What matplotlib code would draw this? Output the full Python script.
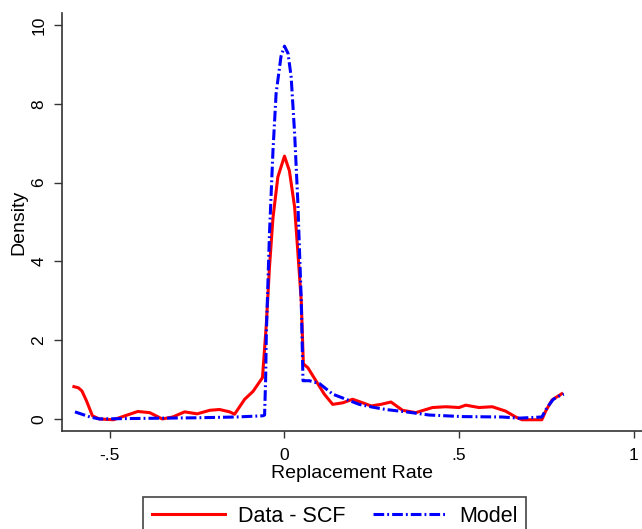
import matplotlib
matplotlib.use("Agg")
import matplotlib.pyplot as plt

plt.rcParams["font.family"] = ["Liberation Sans", "DejaVu Sans"]

# Data - SCF (kernel density)
red_x = [-0.603, -0.59, -0.58, -0.567, -0.55, -0.53, -0.49, -0.45, -0.42, -0.386,
         -0.35, -0.32, -0.286, -0.25, -0.214, -0.186, -0.157, -0.143, -0.114, -0.09,
         -0.063, -0.052, -0.043, -0.033, -0.019, 0.0, 0.014, 0.029, 0.038, 0.048,
         0.054, 0.067, 0.09, 0.114, 0.138, 0.167, 0.195, 0.224, 0.248, 0.276,
         0.305, 0.338, 0.376, 0.424, 0.462, 0.5, 0.519, 0.557, 0.595, 0.633,
         0.662, 0.68, 0.737, 0.748, 0.766, 0.794]
red_y = [0.82, 0.79, 0.71, 0.46, 0.08, 0.0, -0.02, 0.1, 0.19, 0.16,
         0.0, 0.05, 0.18, 0.13, 0.22, 0.24, 0.18, 0.12, 0.5, 0.7,
         1.05, 2.4, 3.85, 5.1, 6.14, 6.67, 6.3, 5.38, 4.27, 3.0,
         1.4, 1.3, 0.97, 0.63, 0.37, 0.41, 0.5, 0.41, 0.33, 0.37,
         0.43, 0.22, 0.16, 0.29, 0.31, 0.29, 0.35, 0.29, 0.31, 0.2,
         0.05, -0.02, -0.02, 0.2, 0.48, 0.64]

# Model
blue_x = [-0.6, -0.557, -0.53, -0.45, -0.35, -0.25, -0.138, -0.062, -0.057, -0.054,
          -0.052, -0.043, -0.033, -0.024, -0.01, 0.0, 0.01, 0.019, 0.029, 0.038,
          0.048, 0.053, 0.071, 0.1, 0.138, 0.176, 0.214, 0.252, 0.29, 0.348,
          0.414, 0.51, 0.623, 0.671, 0.737, 0.752, 0.77, 0.79, 0.8]
blue_y = [0.18, 0.05, 0.0, 0.01, 0.02, 0.03, 0.05, 0.08, 0.1, 1.0,
          2.16, 4.7, 6.8, 8.26, 9.2, 9.46, 9.28, 8.69, 7.25, 5.55,
          3.0, 0.97, 0.97, 0.9, 0.63, 0.5, 0.37, 0.3, 0.24, 0.18,
          0.1, 0.06, 0.05, 0.02, 0.05, 0.29, 0.5, 0.6, 0.63]

x_ticks = [-0.5, 0, 0.5, 1]
x_labels = ["-.5", "0", ".5", "1"]
y_ticks = [0, 2, 4, 6, 8, 10]
y_labels = ["0", "2", "4", "6", "8", "10"]

fig = plt.figure(figsize=(6.42, 5.29), dpi=100)
ax = fig.add_axes([0.0961, 0.1853, 0.904, 0.790])

ax.plot(red_x, red_y, color="red", lw=2.2, label="Data - SCF")
ax.plot(blue_x, blue_y, color="blue", lw=2.2, linestyle=(0, (3.5, 1.0, 0.6, 1.0)),
        label="Model")

ax.set_xlim(-0.638, 1.024)
ax.set_ylim(-0.305, 10.3)
ax.set_xticks(x_ticks, x_labels)
ax.set_yticks(y_ticks, y_labels)
ax.tick_params(axis="x", labelsize=12.5, length=5, width=1, color="#333333", pad=7)
ax.tick_params(axis="y", labelsize=12.5, length=6, width=1, color="#333333", pad=5,
               labelrotation=90)
for lab in ax.get_yticklabels():
    lab.set_verticalalignment("center")

ax.spines["top"].set_visible(False)
ax.spines["right"].set_visible(False)
for s in ["left", "bottom"]:
    ax.spines[s].set_color("#333333")
    ax.spines[s].set_linewidth(1.2)

ax.set_xlabel("Replacement Rate", fontsize=14, labelpad=2)
ax.set_ylabel("Density", fontsize=14, labelpad=3)

leg = fig.legend(loc="upper left", bbox_to_anchor=(143 / 642, 1 - 497 / 529), ncol=2,
                 fontsize=15.5, handlelength=3.4, handletextpad=0.6, columnspacing=1.3,
                 borderpad=0.4, borderaxespad=0, fancybox=False, framealpha=1)
leg.get_frame().set_edgecolor("#444444")
leg.get_frame().set_linewidth(1.2)

fig.savefig("out.png", dpi=100)
